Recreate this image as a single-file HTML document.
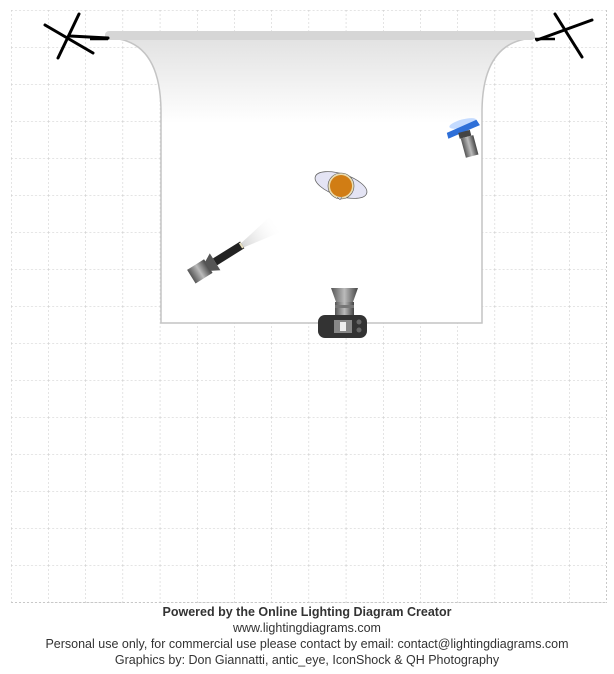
<!DOCTYPE html>
<html><head><meta charset="utf-8"><style>
body{margin:0;background:#fff;width:614px;height:674px;overflow:hidden;font-family:"Liberation Sans",Arial,sans-serif}
.t{position:absolute;left:0;width:614px;text-align:center;font-size:12.5px;color:#333;line-height:16px}
</style></head><body>
<svg width="614" height="674" style="position:absolute;left:0;top:0">
<defs>
<pattern id="g" x="11" y="10" width="37.2" height="37" patternUnits="userSpaceOnUse">
<path d="M0 0V37M0 0H37.2" stroke="#c8c8c8" stroke-width="1" stroke-dasharray="2,2" fill="none"/>
</pattern>
<linearGradient id="bd" x1="0" y1="0" x2="0" y2="1"><stop offset="0" stop-color="#e2e2e2"/><stop offset="0.3" stop-color="#fff"/></linearGradient>
<linearGradient id="mt" x1="0" y1="0" x2="1" y2="0"><stop offset="0" stop-color="#555"/><stop offset=".5" stop-color="#bbb"/><stop offset="1" stop-color="#444"/></linearGradient>
<linearGradient id="beam" x1="0" y1="0" x2="1" y2="0"><stop offset="0" stop-color="#ccc"/><stop offset="1" stop-color="#fff" stop-opacity="0"/></linearGradient>
</defs>
<rect x="11" y="10" width="595" height="593" fill="url(#g)"/>
<path d="M11 602.5H606M606.5 10V603" stroke="#c8c8c8" stroke-dasharray="2,2"/>
<path d="M110 38 Q160 40 161 110 V323 H482 V110 Q483 40 535 38 Z" fill="url(#bd)" stroke="#c4c4c4" stroke-width="1.5"/>
<rect x="105" y="31" width="430" height="9" rx="4" fill="#d6d6d6"/>
<path d="M90 39H108M535 39H555" stroke="#000" stroke-width="2.5"/>
<g stroke="#000" stroke-width="3" stroke-linecap="round">
<path d="M79 14L58 58M45 25L93 53M70 36L108 38"/>
<path d="M555 14L582 57M537 40L592 20"/>
</g>
<g transform="translate(466,135) rotate(-15)">
<ellipse cx="0" cy="-12" rx="14" ry="4" fill="#9cc3ff" opacity=".6"/>
<path d="M-18 -7 L14 -12 L16 -6 L-18 -1Z" fill="#2e6fd8"/>
<rect x="-7" y="-4" width="12" height="6" fill="#444"/>
<rect x="-6" y="2" width="13" height="20" fill="url(#mt)"/>
</g>
<ellipse cx="341" cy="185" rx="27" ry="11" transform="rotate(18 341 185)" fill="#e4e4f4" stroke="#666" stroke-width=".8"/>
<circle cx="341" cy="186" r="13" fill="#eadcb0" stroke="#555" stroke-width=".6"/>
<circle cx="341" cy="186" r="11" fill="#d17d14"/>
<path d="M337 197l3 3 2-3" fill="#ccc" stroke="#555" stroke-width=".5"/>
<g transform="translate(210,265) rotate(-32)">
<path d="M38 -2 L80 -10 L80 10 L38 3Z" fill="url(#beam)" opacity=".8"/>
<rect x="-22" y="-8" width="20" height="16" fill="url(#mt)"/>
<path d="M-3 -5 L6 -10 L6 10 L-3 5Z" fill="#555"/>
<rect x="6" y="-4" width="32" height="8" fill="#222"/>
<rect x="36" y="-3" width="2" height="6" fill="#e8e0c0"/>
</g>
<path d="M331 288H358L353 302H336Z" fill="url(#mt)"/>
<rect x="335" y="302" width="19" height="13" fill="url(#mt)"/>
<rect x="335" y="305" width="19" height="3" fill="#777"/>
<rect x="318" y="315" width="49" height="23" rx="7" fill="#333"/>
<rect x="334" y="320" width="18" height="13" fill="#888"/>
<rect x="340" y="322" width="6" height="9" fill="#eee"/>
<circle cx="359" cy="322" r="2.5" fill="#666"/><circle cx="359" cy="330" r="2.5" fill="#666"/>
</svg>
<div class="t" style="top:604px;font-weight:bold">Powered by the Online Lighting Diagram Creator</div>
<div class="t" style="top:620px">www.lightingdiagrams.com</div>
<div class="t" style="top:636px">Personal use only, for commercial use please contact by email: contact@lightingdiagrams.com</div>
<div class="t" style="top:652px">Graphics by: Don Giannatti, antic_eye, IconShock &amp; QH Photography</div>
</body></html>
